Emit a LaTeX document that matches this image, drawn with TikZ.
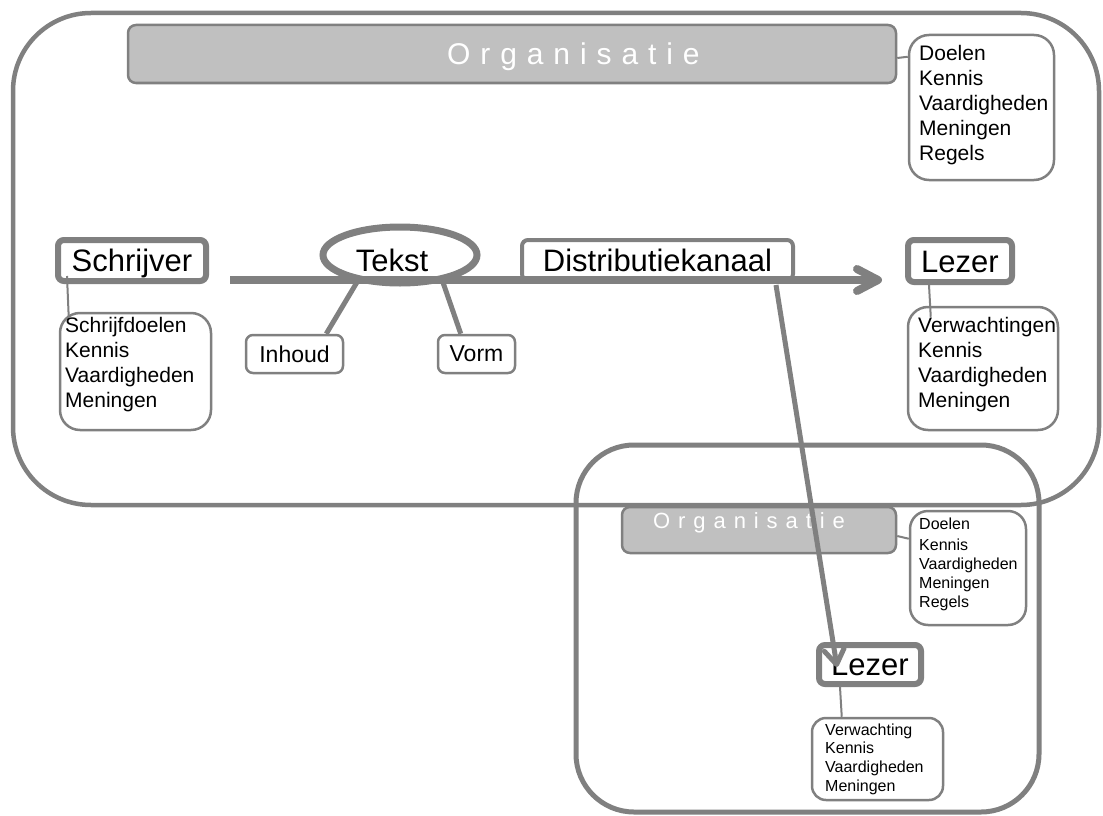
\documentclass[tikz,border=0pt]{standalone}
\usepackage{fontspec}
\setmainfont{Liberation Sans}
\usetikzlibrary{shapes.geometric,arrows.meta,calc}
\definecolor{lgray}{HTML}{808080}
\definecolor{barfill}{HTML}{C0C0C0}
\begin{document}
\begin{tikzpicture}[x=1pt,y=-1pt,
  bigfont/.style={font=\fontsize{31}{36}\selectfont},
  midfont/.style={font=\fontsize{23}{27}\selectfont},
  listfont/.style={font=\fontsize{21}{25}\selectfont},
  smallfont/.style={font=\fontsize{16}{18.8}\selectfont},
  thickbox/.style={draw=lgray, line width=6pt, rounded corners=6pt, inner sep=0pt, bigfont, text height=22.5pt, text depth=0pt},
  thinbox/.style={draw=lgray, line width=2.5pt, rounded corners=#1, inner sep=0pt},
  thinbox/.default=10pt,
  orgbar/.style={draw=lgray, fill=barfill, line width=2.5pt, rounded corners=8pt, inner sep=0pt},
  listtext/.style={inner sep=0pt, align=left, anchor=north west},
  conn/.style={draw=lgray, line width=2pt},
  branch/.style={draw=lgray, line width=5pt},
]
\useasboundingbox (0,0) rectangle (1103,816);

% second organisation frame
\draw[draw=lgray, line width=5pt, rounded corners=58pt] (576,445) rectangle (1039,812);

% top organisation
\node[orgbar, minimum width=768pt, minimum height=58pt] (org) at (512,54) {};
\node[anchor=base west, inner sep=0pt, text=white,
      font=\fontsize{30}{36}\selectfont\addfontfeature{LetterSpace=33}] (orgtxt) at (447,64) {Organisatie};
\node[thinbox=20pt, minimum width=145pt, minimum height=145pt] (doelen) at (981.5,107.5) {};
\node[listtext, listfont] (doelentxt) at (919,45) {Doelen\\Kennis\\Vaardigheden\\Meningen\\Regels};
\draw[conn] ($(org.east)+(0,4)$) -- ($(doelen.north west)+(0,23)$);

% writer
\node[thickbox, minimum width=148pt, minimum height=41pt] (schrijver) at (132,260.5) {Schrijver};
\node[thinbox=20pt, minimum width=151pt, minimum height=117pt] (sdbox) at (135.5,371.5) {};
\node[listtext, listfont] (sdtxt) at (65,317) {Schrijfdoelen\\Kennis\\Vaardigheden\\Meningen};
\draw[conn] ($(schrijver.south west)+(12,-8)$) -- ($(sdbox.north west)+(10,6)$);

% text
\node[ellipse, draw=lgray, line width=7pt, minimum width=154pt, minimum height=56pt, inner sep=0pt, bigfont, text height=32pt, text depth=0pt] (tekst) at (400,255) {Tekst\hspace*{16pt}};
\node[thinbox=7pt, minimum width=97pt, minimum height=38pt, midfont] (inhoud) at (294.5,354) {Inhoud};
\node[thinbox=7pt, minimum width=77pt, minimum height=38pt, midfont] (vorm) at (476.5,354) {Vorm};
\draw[branch] (tekst.-148) -- ($(inhoud.north east)+(-18,0)$);
\draw[branch] (tekst.-32) -- ($(vorm.north west)+(24,0)$);

% channel
\node[draw=lgray, line width=4pt, rounded corners=6pt, inner sep=0pt, minimum width=271pt, minimum height=40pt, bigfont] (distr) at (657.5,260) {Distributiekanaal};

% reader
\node[thickbox, minimum width=104pt, minimum height=42pt] (lezer) at (960,261) {Lezer};
\node[thinbox=20pt, minimum width=150pt, minimum height=123pt] (vbox) at (983,368.5) {};
\node[listtext, listfont] (vtxt) at (918,317) {Verwachtingen\\Kennis\\Vaardigheden\\Meningen};
\draw[conn] ($(lezer.south west)+(24,0)$) -- ($(vbox.north west)+(24,11)$);

% main arrow
\draw[draw=lgray, line width=8pt, -{Straight Barb[length=21pt,width=22pt,round]}]
  ($(schrijver.east)+(21,19.5)$) -- ($(lezer.west)+(-23,19)$);

% second organisation
\node[orgbar, minimum width=274pt, minimum height=46pt] (org2) at (759,530) {};
\node[anchor=base west, inner sep=0pt, text=white,
      font=\fontsize{22}{26}\selectfont\addfontfeature{LetterSpace=36}] (org2txt) at (653,528) {Organisatie};
\node[thinbox=18pt, minimum width=116pt, minimum height=114pt] (doelen2) at (968,568) {};
\node[listtext, smallfont] (doelen2txt) at (919,517.3) {Doelen\\[3pt]Kennis\\Vaardigheden\\Meningen\\Regels};
\draw[conn] ($(org2.east)+(0,6)$) -- ($(doelen2.north west)+(0,29)$);

\node[thickbox, minimum width=102pt, minimum height=39pt] (lezer2) at (870,664.5) {Lezer};
\node[thinbox=14pt, minimum width=131pt, minimum height=82pt] (vbox2) at (877.5,759) {};
\node[listtext, smallfont] (v2txt) at (825,723.3) {Verwachting\\Kennis\\Vaardigheden\\Meningen};
\draw[conn] ($(lezer2.south west)+(24,0)$) -- ($(vbox2.north west)+(31,0)$);

% big organisation frame
\draw[draw=lgray, line width=4.5pt, rounded corners=78pt] (13,13) rectangle (1099,505);

% distribution arrow
\draw[draw=lgray, line width=5pt, -{Straight Barb[length=15pt,width=20pt,round]}]
  ($(distr.south east)+(-19,3)$) -- ($(lezer2.north west)+(21,25)$);
\end{tikzpicture}
\end{document}
